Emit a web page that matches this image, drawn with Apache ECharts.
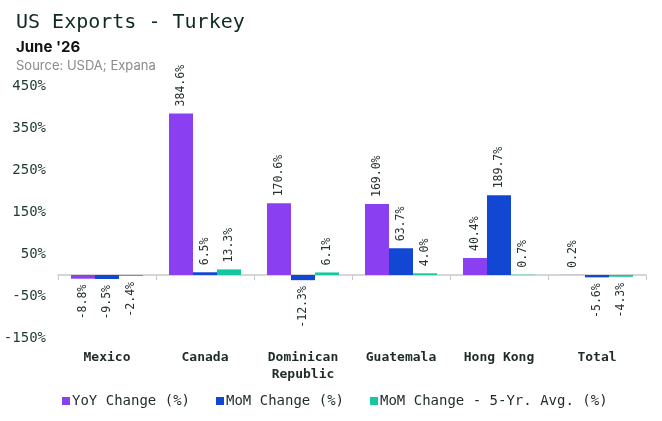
<!DOCTYPE html>
<html><head><meta charset="utf-8">
<script src="https://cdn.jsdelivr.net/npm/echarts@6/dist/echarts.min.js"></script>
<style>html,body{margin:0;padding:0;background:#fff}#c{width:662px;height:421px}</style>
</head><body><div id="c"></div>
<script>
const categories = ['Mexico', 'Canada', 'Dominican\nRepublic', 'Guatemala', 'Hong Kong', 'Total'];
const yoyChange = [-8.8, 384.6, 170.6, 169.0, 40.4, 0.2];
const momChange = [-9.5, 6.5, -12.3, 63.7, 189.7, -5.6];
const mom5YrAvg = [-2.4, 13.3, 6.1, 4.0, 0.7, -4.3];
const yTicks = [-150, -50, 50, 150, 250, 350, 450];
const seriesNames = ['YoY Change (%)', 'MoM Change (%)', 'MoM Change - 5-Yr. Avg. (%)'];
const colors = ['#8a3ff0', '#1247d4', '#14c79f'];

const mono = 'DejaVu Sans Mono';
function mkData(arr) {
  return arr.map(v => ({
    value: v,
    label: v >= 0
      ? { position: 'top', align: 'left', verticalAlign: 'middle', distance: 7 }
      : { position: 'bottom', align: 'right', verticalAlign: 'middle', distance: 6 }
  }));
}
function mkSeries(name, arr, color) {
  return {
    name, type: 'bar', data: mkData(arr), barWidth: 24, barGap: '0%',
    itemStyle: { color },
    label: {
      show: true, rotate: 90, fontFamily: mono, fontSize: 11.5, color: '#25332f',
      formatter: p => p.value.toFixed(1) + '%'
    }
  };
}
const chart = echarts.init(document.getElementById('c'));
chart.setOption({
  animation: false,
  backgroundColor: '#fff',
  title: [
    { text: 'US Exports - Turkey', left: 16, top: 13, padding: 0, textStyle: { fontFamily: mono, fontWeight: 'normal', fontSize: 20, color: '#0f2a22' } },
    { text: "June '26", left: 16, top: 40, padding: 0, textStyle: { fontFamily: 'Inter', fontWeight: 'bold', fontSize: 15, color: '#111' } },
    { text: 'Source: USDA; Expana', left: 16, top: 60, padding: 0, textStyle: { fontFamily: 'Inter', fontWeight: 'normal', fontSize: 13, color: '#8a8a8a' } }
  ],
  legend: {
    bottom: 13, left: 62, itemWidth: 8, itemHeight: 8, itemGap: 26,
    icon: 'rect', padding: 0,
    textStyle: { fontFamily: mono, fontSize: 14, color: '#1f2b28', padding: [0, 0, 0, -3] },
    data: seriesNames
  },
  grid: { left: 58, right: 16, top: 86, bottom: 83, containLabel: false },
  xAxis: [
    {
      type: 'category', data: categories, position: 'bottom',
      axisLine: { onZero: true, lineStyle: { color: '#c8c8c8', width: 1.5 } },
      axisTick: { show: true, alignWithLabel: false, length: 5, lineStyle: { color: '#c8c8c8' } },
      axisLabel: { show: false }
    },
    {
      type: 'category', data: categories, position: 'bottom',
      axisLine: { show: false, onZero: false }, axisTick: { show: false },
      axisLabel: { margin: 11, fontFamily: mono, fontWeight: 'bold', fontSize: 13, color: '#1f2b28', lineHeight: 17 }
    }
  ],
  yAxis: {
    type: 'value', min: -150, max: 450,
    axisLine: { show: false }, axisTick: { show: false }, splitLine: { show: false },
    axisLabel: { customValues: yTicks, margin: 12, fontFamily: mono, fontSize: 14, color: '#1f3a32', formatter: v => v + '%' }
  },
  series: [
    mkSeries(seriesNames[0], yoyChange, colors[0]),
    mkSeries(seriesNames[1], momChange, colors[1]),
    mkSeries(seriesNames[2], mom5YrAvg, colors[2])
  ]
});
</script></body></html>
